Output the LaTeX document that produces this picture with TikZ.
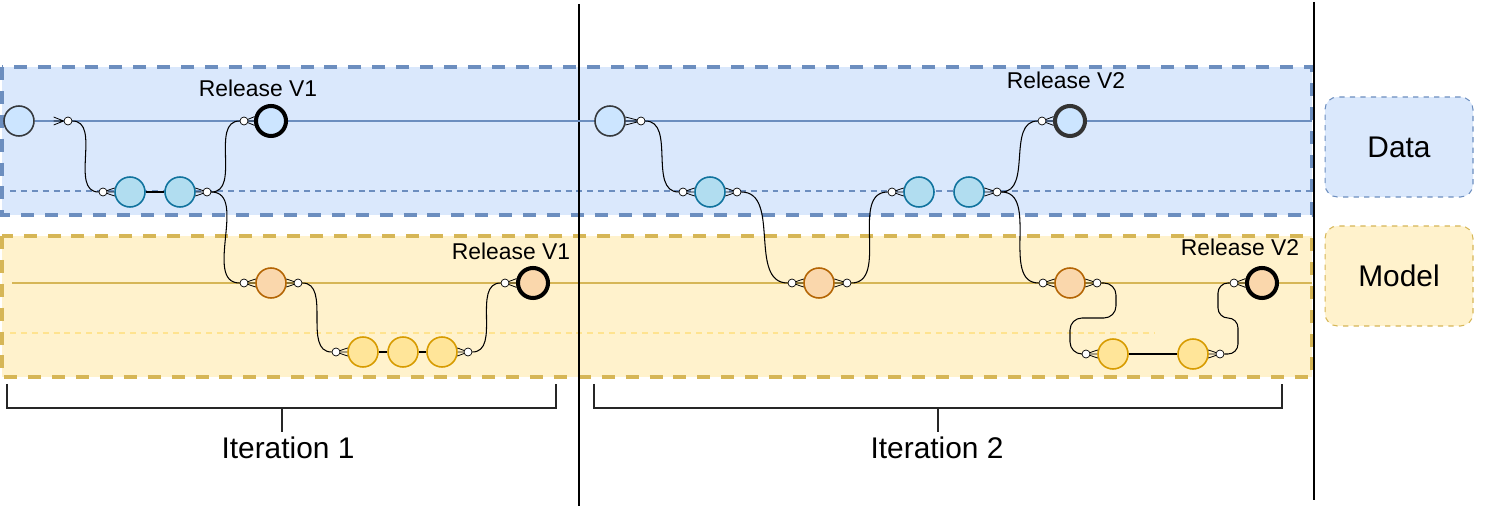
\documentclass[tikz,border=0pt]{standalone}
\usepackage{fontspec}
\setmainfont{Liberation Sans}
\usetikzlibrary{positioning}

\definecolor{dataFill}{HTML}{DAE8FC}
\definecolor{dataLine}{HTML}{6C8EBF}
\definecolor{startFill}{HTML}{CCE5FF}
\definecolor{startLine}{HTML}{36393D}
\definecolor{blueFill}{HTML}{B1DDF0}
\definecolor{blueLine}{HTML}{10739E}
\definecolor{orangeFill}{HTML}{FAD7AC}
\definecolor{orangeLine}{HTML}{B46504}
\definecolor{yellowFill}{HTML}{FFE599}
\definecolor{yellowLine}{HTML}{D79B00}
\definecolor{modelFill}{HTML}{FFF2CC}
\definecolor{modelLine}{HTML}{D6B656}
\definecolor{modelDash}{HTML}{FFE38F}

% crow's foot from a joint dot into a commit
\newcommand{\crowL}[2]{\draw[crow] (#1) -- (#2.165) (#1) -- (#2.180) (#1) -- (#2.195);}
\newcommand{\crowR}[2]{\draw[crow] (#1) -- (#2.15) (#1) -- (#2.0) (#1) -- (#2.345);}

\begin{document}
\begin{tikzpicture}[
    x=0.02cm, y=-0.02cm,
    band/.style={line width=2.2pt, dash pattern=on 7.4pt off 6.2pt},
    lane/.style={line width=0.8pt},
    sublane/.style={line width=0.6pt, dash pattern=on 3.4pt off 2.8pt},
    commit/.style={circle, draw, line width=0.9pt, minimum size=0.6cm, inner sep=0pt},
    start/.style={commit, fill=startFill, draw=startLine},
    dcommit/.style={commit, fill=blueFill, draw=blueLine},
    ocommit/.style={commit, fill=orangeFill, draw=orangeLine},
    ycommit/.style={commit, fill=yellowFill, draw=yellowLine},
    release/.style={line width=2.3pt},
    joint/.style={circle, draw, fill=white, line width=0.4pt, minimum size=0.16cm, inner sep=0pt},
    link/.style={line width=0.6pt},
    crow/.style={line width=0.45pt},
    tag/.style={anchor=base, inner sep=0pt, font=\fontsize{13}{15}\selectfont},
    legend/.style={draw, dashed, line width=0.6pt, rounded corners=0.25cm,
        minimum width=2.96cm, minimum height=2cm, font=\fontsize{17}{20}\selectfont}
]
\useasboundingbox (0,0) rectangle (1488,506);

% lanes
\draw[band, fill=dataFill, draw=dataLine] (2,67) rectangle (1312,215);
\draw[band, fill=modelFill, draw=modelLine] (2,236) rectangle (1312,377);
\draw[sublane, draw=dataLine] (10,191) -- (1312,191);
\draw[sublane, draw=modelDash] (10,333) -- (1155,333);
\draw[lane, draw=modelLine] (12,283) -- (1312,283);

% iteration separators
\draw[line width=1.1pt] (579,4) -- (579,506);
\draw[line width=1.1pt] (1314,2) -- (1314,500);

% iteration 1
\node[start] (dA) at (19,121) {};
\draw[lane, draw=dataLine] (dA) -- (1312,121);
\node[joint] (a1) at (68,121) {};
\node[joint] (a2) at (103,192) {};
\node[dcommit] (dB) at (130,192) {};
\node[dcommit] (dC) at (180,192) {};
\node[joint] (a3) at (207,192) {};
\node[joint] (a4) at (244,121) {};
\node[commit, release, fill=startFill] (dR1) at (271,121) {};
\node[joint] (a5) at (244,283) {};
\node[ocommit] (mA) at (271,283) {};
\node[joint] (a6) at (298,283) {};
\node[joint] (a7) at (336,352) {};
\node[ycommit] (mB) at (363,352) {};
\node[ycommit] (mC) at (403,352) {};
\node[ycommit] (mD) at (442,352) {};
\node[joint] (a8) at (468,352) {};
\node[joint] (a9) at (505,283) {};
\node[commit, release, fill=orangeFill] (mR1) at (533,283) {};

\draw[crow] (a1.west) -- +(-10,4) (a1.west) -- +(-10,0) (a1.west) -- +(-10,-4);
\crowL{a2}{dB} \crowR{a3}{dC} \crowL{a4}{dR1}
\crowL{a5}{mA} \crowR{a6}{mA} \crowL{a7}{mB}
\crowR{a8}{mD} \crowL{a9}{mR1}
\draw[link] (dB) -- (dC) (mB) -- (mC) (mC) -- (mD);
\draw[link] (a1) to[out=0, in=180] (a2);
\draw[link] (a3) to[out=0, in=180] (a4);
\draw[link] (a3) to[out=0, in=180] (a5);
\draw[link] (a6) to[out=0, in=180] (a7);
\draw[link] (a8) to[out=0, in=180] (a9);

% iteration 2
\node[start] (dD) at (610,121) {};
\node[joint] (b1) at (641,121) {};
\node[joint] (b2) at (683,192) {};
\node[dcommit] (dE) at (710,192) {};
\node[joint] (b3) at (737,192) {};
\node[joint] (b4) at (792,283) {};
\node[ocommit] (mE) at (819,283) {};
\node[joint] (b5) at (847,283) {};
\node[joint] (b6) at (892,192) {};
\node[dcommit] (dF) at (919,192) {};
\node[dcommit] (dG) at (969,192) {};
\node[joint] (b7) at (997,192) {};
\node[joint] (b8) at (1042,121) {};
\node[commit, release, fill=startFill, draw=black!80] (dR2) at (1070,121) {};
\node[joint] (b9) at (1043,283) {};
\node[ocommit] (mF) at (1070,283) {};
\node[joint] (b10) at (1097,283) {};
\node[joint] (b11) at (1086,354) {};
\node[ycommit] (mG) at (1113,354) {};
\node[ycommit] (mH) at (1193,354) {};
\node[joint] (b12) at (1220,354) {};
\node[joint] (b13) at (1234,283) {};
\node[commit, release, fill=orangeFill] (mR2) at (1262,283) {};

\crowR{b1}{dD} \crowL{b2}{dE} \crowR{b3}{dE}
\crowL{b4}{mE} \crowR{b5}{mE} \crowL{b6}{dF}
\crowR{b7}{dG} \crowL{b8}{dR2} \crowL{b9}{mF}
\crowR{b10}{mF} \crowL{b11}{mG} \crowR{b12}{mH}
\crowL{b13}{mR2}
\draw[link] (mG) -- (mH);
\draw[link] (b1) to[out=0, in=180] (b2);
\draw[link] (b3) to[out=0, in=180] (b4);
\draw[link] (b5) to[out=0, in=180] (b6);
\draw[link] (b7) to[out=0, in=180] (b8);
\draw[link] (b7) to[out=0, in=180] (b9);
\draw[link, rounded corners=0.24cm] (b10) -- ++(19,0) -- ++(0,35) -- ++(-46,0) |- (b11);
\draw[link, rounded corners=0.2cm] (b12) -- ++(18,0) -- ++(0,-36) -- ++(-20,0) |- (b13);

% release labels
\node[tag] (tR1) at (258,97) {Release V1};
\node[tag] (tM1) at (511,260) {Release V1};
\node[tag] (tR2) at (1066,89) {Release V2};
\node[tag] (tM2) at (1240,256) {Release V2};

% legend
\node[legend, fill=dataFill, draw=dataLine] (data) at (1399,147) {Data\hspace{9pt}};
\node[legend, fill=modelFill, draw=modelLine] (model) at (1399,276) {Model\hspace{6pt}};

% iterations
\draw[line width=0.9pt, draw=black!85] (7,384) -- (7,408) -- (556,408) -- (556,384) (282,408) -- (282,432);
\draw[line width=0.9pt, draw=black!85] (594,384) -- (594,408) -- (1282,408) -- (1282,384) (938,408) -- (938,432);
\node[anchor=base, font=\fontsize{17}{20}\selectfont] (it1) at (288,459) {Iteration 1};
\node[anchor=base, font=\fontsize{17}{20}\selectfont] (it2) at (937,459) {Iteration 2};
\end{tikzpicture}
\end{document}
